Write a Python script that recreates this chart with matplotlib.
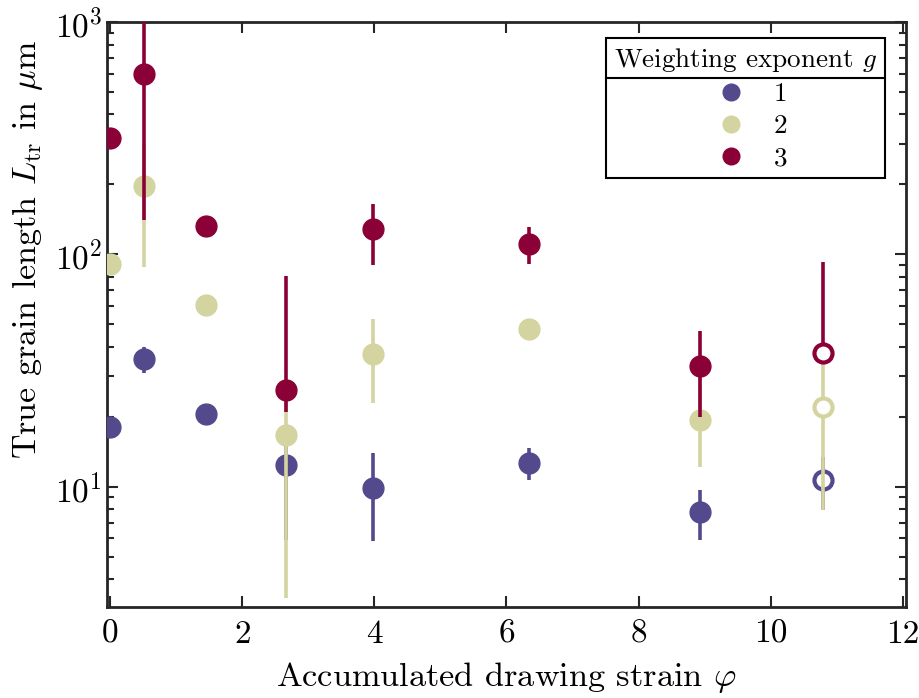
import numpy as np
import matplotlib
matplotlib.use("Agg")
import matplotlib.pyplot as plt
from matplotlib.lines import Line2D

plt.rcParams['font.family'] = 'serif'
plt.rcParams['font.serif'] = ['cmr10']
plt.rcParams['mathtext.fontset'] = 'cm'
plt.rcParams['axes.formatter.use_mathtext'] = True

nan = np.nan
strain = [0.0, 0.51, 1.45, 2.66, 3.98, 6.34, 8.93, 10.79]
open_pt = [False, False, False, False, False, False, False, True]

g1 = [18.1, 35.6, 20.6, 12.4, 9.9, 12.7, 7.8, 10.7]
g1_lo = [nan, 31.0, nan, 5.9, 5.85, 10.7, 5.9, 7.95]
g1_hi = [nan, 40.0, nan, 16.0, 14.0, 14.7, 9.7, 13.5]

g2 = [90.6, 196.0, 60.8, 16.7, 37.4, 47.9, 19.4, 22.1]
g2_lo = [nan, 88.0, nan, 3.33, 23.0, nan, 12.2, 7.95]
g2_hi = [nan, 300.0, nan, 26.0, 52.5, nan, 30.0, 34.0]

g3 = [316.0, 597.0, 133.0, 26.2, 128.0, 111.0, 33.2, 37.5]
g3_lo = [nan, 141.0, nan, 21.0, 90.0, 91.0, 20.0, 37.5]
g3_hi = [nan, 2000.0, nan, 80.5, 164.0, 131.0, 46.6, 92.5]

labels = ['1', '2', '3']
colors = ['#524a8c', '#d4d4a0', '#8b0036']

fig = plt.figure(figsize=(9.2, 6.98), dpi=100)
ax = fig.add_axes([107/920, 1-607/698, 799/920, 585/698])
ax.set_yscale('log')

series = [(g1, g1_lo, g1_hi), (g2, g2_lo, g2_hi), (g3, g3_lo, g3_hi)]
handles = []
for i, ((v, lo, hi), c) in enumerate(zip(series, colors)):
    z = 2 + i * 2
    x = np.array(strain)
    v = np.array(v); lo = np.array(lo); hi = np.array(hi)
    m = ~np.isnan(lo)
    ax.vlines(x[m], lo[m], hi[m], color=c, lw=2.6, zorder=z)
    op = np.array(open_pt)
    ax.plot(x[~op], v[~op], 'o', ms=15, color=c, mec=c, zorder=z + 1, ls='none')
    ax.plot(x[op], v[op], 'o', ms=13, mfc='white', mec=c, mew=3, zorder=z + 1, ls='none')
    handles.append(Line2D([], [], marker='o', ls='none', ms=12, color=c))

ax.set_xlim(-0.05, 12.05)
ax.set_ylim(3.04, 1000)
ax.set_xticks([0, 2, 4, 6, 8, 10, 12])
ax.set_xticklabels(['0', '2', '4', '6', '8', '10', '12'])
ax.tick_params(which='both', direction='in', top=True, right=True,
               labelsize=24, width=1.5, color='#262626')
ax.tick_params(which='major', length=8)
ax.tick_params(axis='x', pad=9)
ax.tick_params(which='minor', length=5)
for s in ax.spines.values():
    s.set_linewidth(2)
    s.set_color('#262626')

ax.set_xlabel(r'Accumulated drawing strain $\varphi$', fontsize=24.7, labelpad=8)
ax.set_ylabel(r'True grain length $L_{\mathrm{tr}}$ in $\mu$m', fontsize=24.5)
ax.yaxis.set_label_coords(-0.077, 0.612)

leg = ax.legend(handles, labels, title=r'Weighting exponent $g$', loc='upper right',
                bbox_to_anchor=(0.974, 0.973), borderaxespad=0, fancybox=False,
                edgecolor='black', framealpha=1, fontsize=19.5, title_fontsize=19.5,
                handletextpad=0.6, labelspacing=0.3, borderpad=0.3)
leg.get_frame().set_linewidth(1.5)

fig.canvas.draw()
r = fig.canvas.get_renderer()
fb = leg.get_frame().get_window_extent(r)
tb = leg.get_title().get_window_extent(r)
yline = tb.y0 - 4
inv = fig.transFigure.inverted()
(x0, y0) = inv.transform((fb.x0, yline))
(x1, _) = inv.transform((fb.x1, yline))
fig.add_artist(Line2D([x0, x1], [y0, y0], color='black', lw=1.5))

fig.savefig('out.png', dpi=100)
